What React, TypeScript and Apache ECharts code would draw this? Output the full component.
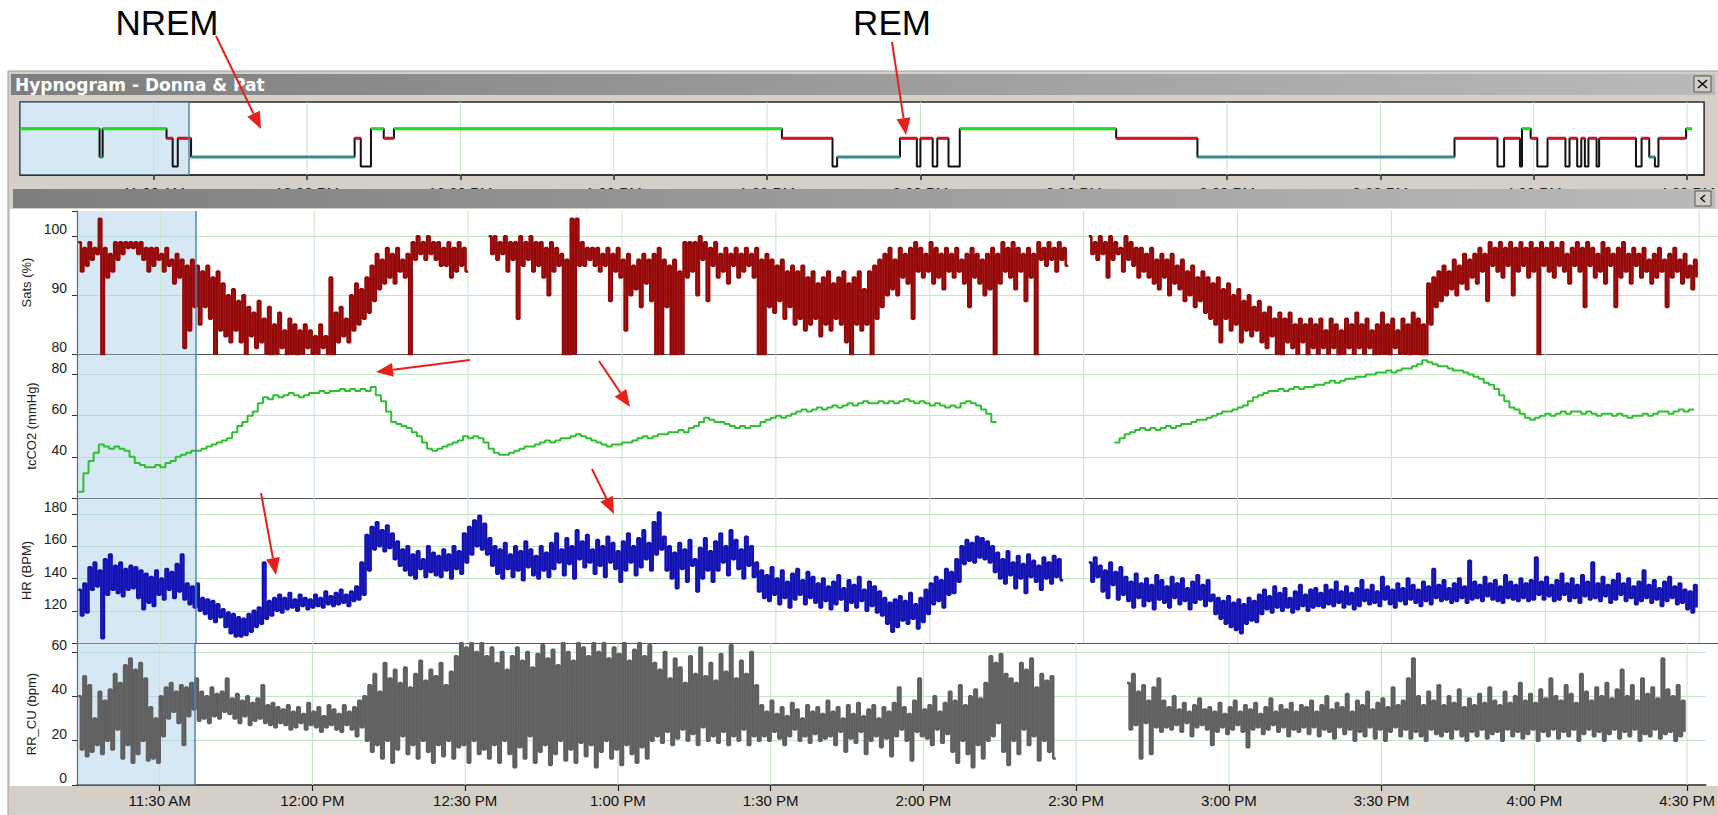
import React, { useEffect, useRef } from "react";
import * as echarts from "echarts";

const _ = null;

// ---- Per-minute readings starting 11:14 AM (hi = top of trace, lo = bottom of trace in that minute)
const satsHi = [
  99,98,99,98,103,98,97,99,99,99,
  99,99,99,98,98,98,97,98,96,97,
  96,95,96,95,94,95,93,94,92,90,
  91,89,90,88,87,89,86,88,85,87,
  84,86,85,84,85,84,83,85,83,93,
  87,88,86,90,92,91,93,95,97,96,
  98,97,98,96,97,99,100,99,100,99,
  99,98,99,98,99,98,_,_,_,_,
  100,100,99,100,99,99,100,99,100,99,
  99,98,99,98,97,96,103,103,99,98,
  98,98,97,98,97,98,96,97,95,96,
  97,96,97,98,96,95,96,94,99,99,
  99,100,99,98,99,97,98,97,98,97,
  98,97,98,96,97,96,95,96,94,95,
  94,95,93,94,92,93,94,92,93,94,
  92,93,94,91,94,95,96,97,98,96,
  98,97,98,99,98,97,99,98,97,98,
  97,98,96,97,98,97,96,97,98,97,
  99,98,99,98,97,98,97,99,98,99,
  98,99,98,_,_,_,_,100,99,100,
  99,100,99,98,100,99,98,98,97,98,
  96,97,96,97,95,96,94,95,93,94,
  93,92,93,91,92,90,91,89,90,88,
  89,87,88,86,87,86,87,85,86,85,
  86,85,86,84,86,85,84,86,85,87,
  85,86,84,85,87,85,86,84,86,85,
  87,86,85,92,93,94,95,94,96,95,
  97,96,97,98,97,99,98,99,98,99,
  98,99,98,99,98,99,98,99,98,99,
  97,98,99,98,99,98,97,99,98,97,
  98,99,97,98,97,98,96,97,98,96,
  97,98,96,97,95,96,
];
const satsLo = [
  94,95,96,97,78,93,94,96,97,98,
  98,97,96,94,95,96,94,95,92,93,
  81,84,88,85,88,86,80,84,83,82,
  84,82,80,83,81,82,80,79,80,81,
  79,80,79,80,81,80,80,81,79,78,
  82,83,82,84,85,86,87,89,91,92,
  93,92,94,93,78,96,97,96,97,96,
  95,95,93,94,95,94,_,_,_,_,
  97,96,97,94,96,86,95,96,94,95,
  93,90,94,95,79,78,80,95,95,96,
  95,94,95,89,94,93,84,90,91,88,
  92,89,79,80,88,79,79,80,93,94,
  90,96,89,95,93,94,92,95,93,94,
  95,93,79,79,88,87,89,86,88,85,
  86,84,85,86,83,85,84,86,85,82,
  79,85,84,85,79,86,88,90,91,90,
  93,92,86,94,93,94,92,93,91,94,
  93,94,92,88,93,92,90,91,79,92,
  94,93,91,94,89,93,79,96,95,96,
  94,96,95,_,_,_,_,97,96,97,
  93,96,97,94,96,95,93,94,93,92,
  91,93,90,92,91,89,90,88,89,87,
  86,85,82,86,84,85,82,84,83,84,
  82,81,83,80,79,82,81,80,82,79,
  81,80,81,80,81,79,80,81,80,81,
  80,81,79,80,80,79,81,80,80,79,
  80,79,78,85,88,89,90,91,90,92,
  91,93,92,94,89,95,94,93,95,90,
  94,95,93,94,79,95,94,93,95,94,
  92,95,94,88,95,93,94,92,95,88,
  93,94,92,95,93,94,92,93,94,88,
  93,94,92,93,91,93,
];
const tcco2 = [
  23,32,38,42,46,45,44,45,44,43,
  40,37,36,35,35,36,35,37,38,40,
  41,42,43,43,44,45,46,47,48,49,
  52,55,57,60,62,66,69,68,70,69,
  70,71,70,69,70,71,71,72,71,72,
  72,73,72,73,72,73,72,74,70,67,
  62,57,56,55,54,52,50,47,44,43,
  44,45,46,47,48,50,49,50,49,47,
  44,42,41,41,42,43,44,45,45,46,
  47,48,47,48,49,49,50,51,50,49,
  48,47,46,45,46,46,47,47,48,49,
  50,49,50,51,51,52,52,53,52,54,
  55,57,59,58,57,57,56,55,54,55,
  54,55,55,57,58,59,60,59,60,61,
  62,63,62,63,64,63,64,65,64,65,
  66,65,66,67,66,66,67,66,67,66,
  67,68,67,66,67,66,65,66,65,64,
  65,64,66,67,66,65,63,61,57,_,
  _,_,_,_,_,_,_,_,_,_,
  _,_,_,_,_,_,_,_,_,_,
  _,_,47,49,51,52,53,54,53,54,
  53,54,55,54,55,56,56,57,58,58,
  59,60,61,62,62,63,64,65,67,69,
  70,71,72,72,73,72,73,74,73,74,
  74,75,75,76,77,76,77,78,78,79,
  79,80,80,81,81,82,81,82,83,83,
  84,85,87,86,85,84,84,83,82,82,
  81,80,79,78,76,75,73,70,67,64,
  63,61,59,58,59,60,61,60,61,62,
  61,62,62,61,62,61,60,61,61,60,
  61,60,59,60,60,61,60,61,62,62,
  61,62,63,62,63,63,
];
const hrHi = [
  133,137,147,150,145,152,155,148,150,146,
  148,147,145,143,141,145,140,146,144,149,
  155,137,135,137,128,127,126,124,121,119,
  118,116,115,118,120,122,150,126,128,130,
  128,131,127,130,128,127,130,128,132,129,
  131,133,130,132,135,150,167,172,175,170,
  173,168,163,158,160,155,157,152,160,156,
  154,158,155,160,157,168,172,176,179,174,
  165,160,158,162,155,160,157,163,158,154,
  160,156,162,168,158,165,160,170,163,167,
  158,164,160,166,162,157,163,168,160,165,
  170,162,175,181,166,160,156,162,158,164,
  152,159,165,157,163,168,160,170,164,158,
  166,160,150,145,142,147,140,145,138,143,
  146,139,144,141,137,140,135,138,142,134,
  139,136,141,133,138,135,132,128,125,127,
  129,126,131,124,128,133,137,141,139,146,
  144,152,160,164,162,166,165,163,160,156,
  152,157,150,154,149,155,151,148,153,150,
  154,152,_,_,_,_,_,150,153,148,
  145,150,144,147,141,138,143,137,140,136,
  142,139,135,141,137,140,134,138,142,136,
  139,130,128,126,129,125,127,124,128,126,
  130,133,129,135,131,134,128,132,136,130,
  133,134,131,136,133,138,132,135,131,134,
  139,133,136,132,141,135,133,137,134,140,
  136,133,138,135,146,136,139,134,137,140,
  135,151,138,136,141,137,139,135,142,138,
  136,140,137,139,153,138,141,136,139,143,
  137,140,136,142,138,150,137,141,136,139,
  143,137,140,135,138,145,136,139,134,138,
  141,135,137,133,132,136,
];
const hrLo = [
  117,119,133,135,103,130,133,131,129,133,
  134,128,121,125,123,130,127,133,128,132,
  127,124,122,120,118,115,113,116,110,106,
  104,104,105,107,110,112,115,117,120,119,
  121,122,120,123,121,122,123,122,124,123,
  124,125,123,126,127,130,145,158,160,157,
  159,152,148,145,142,140,146,141,144,142,
  141,145,140,146,143,150,155,160,158,155,
  148,143,140,146,141,145,139,147,142,140,
  145,141,146,150,142,149,140,152,147,150,
  143,148,141,150,146,138,145,150,142,147,
  152,145,155,158,145,140,134,146,138,148,
  132,140,145,138,145,150,142,152,146,140,
  148,141,132,128,126,130,124,128,122,127,
  130,124,128,125,122,126,121,124,127,120,
  125,122,126,120,123,119,117,112,107,110,
  114,112,115,109,113,118,124,126,122,130,
  131,138,149,151,150,153,152,150,144,140,
  137,142,134,140,131,141,138,133,140,137,
  141,139,_,_,_,_,_,138,141,132,
  128,136,127,130,126,122,128,123,126,121,
  127,125,122,128,124,126,121,125,127,123,
  126,118,115,112,110,108,106,112,114,113,
  118,121,119,122,120,122,119,121,123,120,
  122,123,122,124,123,125,122,124,121,123,
  126,124,125,123,127,124,122,126,124,127,
  125,123,126,124,128,126,127,125,126,128,
  125,127,128,126,129,127,126,125,128,127,
  126,128,126,127,130,127,129,126,127,130,
  126,128,125,129,127,128,126,129,125,127,
  130,126,128,124,126,128,125,127,123,126,
  128,124,125,121,119,122,
];
const rrHi = [
  40,49,45,30,42,38,43,50,46,54,
  57,52,55,48,35,30,40,44,46,42,
  45,44,46,48,42,40,44,41,42,48,
  39,41,38,40,37,39,45,36,37,35,
  34,36,33,35,32,37,33,35,31,36,
  34,32,36,33,35,38,40,45,50,42,
  55,48,52,46,53,44,50,56,47,52,
  49,55,45,51,58,64,62,64,60,64,
  58,62,55,60,52,58,62,56,60,53,
  59,63,57,61,54,64,60,56,64,62,
  58,64,60,64,57,62,59,64,56,61,
  64,58,63,55,52,60,48,57,53,46,
  58,50,62,49,55,47,59,51,63,48,
  56,50,60,45,36,33,38,32,35,31,
  37,34,30,36,33,35,32,38,33,35,
  30,36,32,37,31,34,36,30,35,33,
  37,44,35,32,38,48,34,36,40,33,
  37,42,38,45,36,40,43,39,46,58,
  55,59,50,48,46,55,52,57,44,50,
  47,49,_,_,_,_,_,_,_,_,
  _,_,_,_,_,_,46,50,42,45,
  38,44,48,38,35,40,34,37,33,36,
  39,34,35,33,37,32,35,38,33,36,
  34,37,32,35,39,33,36,34,37,33,
  36,35,38,33,36,40,34,37,35,41,
  33,38,36,42,34,37,39,35,44,36,
  38,48,57,40,36,42,38,45,36,40,
  37,43,35,39,36,41,37,44,38,36,
  42,37,40,46,38,41,37,43,39,48,
  40,38,45,41,37,50,42,38,44,40,
  46,39,43,52,40,45,38,48,41,44,
  39,57,43,40,45,38,
];
const rrLo = [
  16,13,15,18,14,20,16,25,12,18,
  10,14,20,11,12,10,22,30,33,28,
  18,31,34,29,30,28,31,30,33,32,
  30,28,31,27,29,30,28,27,26,28,
  27,25,26,28,25,27,26,24,26,27,
  25,24,27,25,22,26,20,15,18,12,
  20,10,16,22,14,18,12,20,15,10,
  18,13,20,12,17,18,10,20,14,16,
  12,18,10,20,14,8,17,12,22,10,
  15,18,9,14,20,11,16,10,19,13,
  18,8,15,20,12,16,9,18,14,10,
  17,12,20,22,19,24,18,21,25,20,
  23,18,26,20,22,19,24,18,22,20,
  25,18,22,20,22,20,24,21,18,22,
  25,20,22,19,23,20,21,22,18,24,
  15,21,19,24,14,20,22,17,21,13,
  22,25,20,11,24,22,21,18,25,19,
  23,15,10,20,14,8,18,12,20,22,
  28,15,9,20,14,25,18,22,11,20,
  15,12,_,_,_,_,_,_,_,_,
  _,_,_,_,_,_,25,27,12,28,
  14,26,24,26,25,27,24,28,22,26,
  27,25,18,24,26,23,25,27,24,17,
  25,26,23,25,27,24,26,22,25,24,
  26,23,26,22,25,24,21,26,23,25,
  20,24,22,26,21,25,20,24,26,22,
  25,21,24,22,20,25,23,22,24,21,
  25,22,20,24,22,25,21,23,24,20,
  25,22,24,21,23,25,20,24,22,25,
  21,24,22,25,20,23,25,22,24,20,
  23,25,21,24,22,25,20,23,22,25,
  21,23,24,20,22,24,
];

// ---- Hypnogram: stage changes (minutes after 11:00 AM). 4 = wake, 3 = REM, 1 = NREM, 0 = other
const hypnoStartMin = [3.8, 19.4, 20.0, 32.5, 33.7, 34.7, 37.3, 69.3, 70.5, 72.5, 75.0, 77.0, 152.9, 162.8, 163.7, 176.0, 179.3, 180.0, 182.4, 183.3, 185.5, 187.7, 218.3, 234.2, 284.5, 292.9, 294.2, 297.3, 297.7, 299.4, 300.7, 302.7, 306.2, 307.0, 308.5, 309.3, 310.0, 310.7, 312.3, 312.8, 320.0, 321.1, 322.6, 323.7, 324.4, 329.8];
const hypnoStage = [4, 1, 4, 3, 0, 3, 1, 3, 0, 4, 3, 4, 3, 0, 1, 3, 0, 3, 0, 3, 0, 4, 3, 1, 3, 0, 3, 0, 4, 3, 0, 3, 0, 3, 0, 3, 0, 3, 0, 3, 0, 3, 1, 0, 3, 4];
const hypnoEndMin = 330.9;

// ---- Time ticks (minutes after 11:00 AM) and their labels
const tickMinutes = [30, 60, 90, 120, 150, 180, 210, 240, 270, 300, 330];
const tickText = ["11:30 AM", "12:00 PM", "12:30 PM", "1:00 PM", "1:30 PM", "2:00 PM", "2:30 PM", "3:00 PM", "3:30 PM", "4:00 PM", "4:30 PM"];
const satsTicks = [80, 90, 100];
const co2Ticks = [40, 60, 80];
const hrTicks = [120, 140, 160, 180];
const rrTicks = [0, 20, 40, 60];

// minutes after 11:00 AM
const seriesStart = 14;
const mainMin = 13.75;
const mainMax = 333.67;
const hypnoMin = 3.83;
const hypnoMax = 333.33;
const shadeEnd = 36.83;

const FONT = '"Liberation Sans", Arial, sans-serif';
const GRID_GREEN = "#c4e6c4";
const SHADE = "rgba(160,200,230,0.42)";
const SHADE_EDGE = "#4a85b5";
const ARROW_RED = "#e8201a";

function fmtTime(v: number) {
  const i = tickMinutes.indexOf(v);
  return i >= 0 ? tickText[i] : "";
}

function zig(hi: (number | null)[], lo: (number | null)[]) {
  const out: any[] = [];
  hi.forEach((h, i) => {
    const t = seriesStart + i;
    out.push([t, h]);
    out.push([t + 0.5, lo[i]]);
  });
  return out;
}
function single(vals: (number | null)[]) {
  return vals.map((v, i) => [seriesStart + i, v]);
}
function gridLines(yMin: number, yMax: number) {
  return tickMinutes.flatMap((v) => [[v, yMin], [v, yMax], [v, null]]);
}

function shadeMarks(start: number) {
  return {
    markArea: { silent: true, itemStyle: { color: SHADE }, data: [[{ xAxis: start }, { xAxis: shadeEnd }]] },
    markLine: {
      silent: true, symbol: ["none", "none"], label: { show: false },
      lineStyle: { color: SHADE_EDGE, width: 1.5, type: "solid" }, data: [{ xAxis: shadeEnd }],
    },
  };
}

const annotationArrows = [
  [216, 36, 261, 129],
  [892, 42, 906, 135],
  [470, 360, 376, 372],
  [599, 361, 630, 407],
  [592, 469, 614, 514],
  [261, 493, 276, 575],
];

function arrowEls(a: number[]) {
  const [x1, y1, x2, y2] = a;
  const dx = x2 - x1, dy = y2 - y1;
  const len = Math.hypot(dx, dy);
  const ux = dx / len, uy = dy / len;
  const hl = 17, hw = 7;
  const bx = x2 - ux * hl, by = y2 - uy * hl;
  return [
    { type: "line", shape: { x1, y1, x2: bx, y2: by }, style: { stroke: ARROW_RED, lineWidth: 2 }, z: 60 },
    {
      type: "polygon",
      shape: { points: [[x2, y2], [bx - uy * hw, by + ux * hw], [bx + uy * hw, by - ux * hw]] },
      style: { fill: ARROW_RED }, z: 60,
    },
  ];
}

function txt(x: number, y: number, text: string, font: string, fill: string, align = "left", z = 55) {
  return {
    type: "text", x, y, z,
    style: { text, font, fill, align, textAlign: align, verticalAlign: "middle", textVerticalAlign: "middle" },
  };
}

function titleGrad() {
  return {
    type: "linear", x: 0, y: 0, x2: 1, y2: 0,
    colorStops: [{ offset: 0, color: "#7e7e7e" }, { offset: 1, color: "#bababa" }],
  };
}

function buildOption() {
  const black: any[] = [];
  const colored: Record<number, any[]> = { 4: [], 3: [], 1: [] };
  for (let i = 0; i < hypnoStartMin.length; i++) {
    const s = hypnoStartMin[i];
    const e = i + 1 < hypnoStartMin.length ? hypnoStartMin[i + 1] : hypnoEndMin;
    const v = hypnoStage[i];
    black.push([s, v], [e, v]);
    if (colored[v]) colored[v].push([s, v], [e, v], [e, null]);
  }
  const stageColor: Record<number, string> = { 4: "#1fdc1f", 3: "#d0142c", 1: "#3a8c8c" };
  const hypY = [-0.9, 6.85];

  const panels = [
    { name: "Sats (%)", min: 80, max: 104.3, interval: 10, top: 211, height: 143, ticks: satsTicks, color: "#960707", data: zig(satsHi, satsLo), width: 2.5 },
    { name: "tcCO2 (mmHg)", min: 20, max: 90, interval: 20, top: 354, height: 144, ticks: co2Ticks, color: "#2ec02e", data: single(tcco2), width: 2 },
    { name: "HR (BPM)", min: 100, max: 190, interval: 20, top: 498, height: 145, ticks: hrTicks, color: "#1212b4", data: zig(hrHi, hrLo), width: 2.5 },
    { name: "RR_CU (bpm)", min: 0, max: 64, interval: 20, top: 643, height: 142, ticks: rrTicks, color: "#5f5f5f", data: zig(rrHi, rrLo), width: 2.5 },
  ];

  const grid: any[] = [
    { left: 20, top: 102, width: 1688, height: 73, show: true, backgroundColor: "#ffffff", borderColor: "#2a2a2a", borderWidth: 1.5 },
    ...panels.map((p) => ({ left: 77, top: p.top, width: 1641, height: p.height, show: false })),
  ];

  const xAxis: any[] = [
    {
      gridIndex: 0, type: "value", min: hypnoMin, max: hypnoMax,
      axisLine: { show: true, onZero: false, lineStyle: { color: "#2a2a2a", width: 1.5 } },
      axisTick: { show: true, length: 5, customValues: tickMinutes, lineStyle: { color: "#2a2a2a", width: 1.5 } },
      axisLabel: { customValues: tickMinutes, formatter: fmtTime, fontSize: 15, color: "#222", margin: 10, fontFamily: FONT },
      splitLine: { show: false },
    },
    ...panels.map((p, i) => ({
      gridIndex: i + 1, type: "value", min: mainMin, max: mainMax,
      axisLine: { show: true, onZero: false, lineStyle: { color: i === 3 ? "#222" : "#555", width: i === 3 ? 1.5 : 1.2 } },
      axisTick: { show: i === 3, length: 6, customValues: tickMinutes, lineStyle: { color: "#222", width: 1.2 } },
      axisLabel: { show: i === 3, customValues: tickMinutes, formatter: fmtTime, fontSize: 15, color: "#111", margin: 8, fontFamily: FONT },
      splitLine: { show: false },
    })),
  ];

  const yAxis: any[] = [
    { gridIndex: 0, type: "value", min: hypY[0], max: hypY[1], show: false },
    ...panels.map((p, i) => ({
      gridIndex: i + 1, type: "value", min: p.min, max: p.max, interval: p.interval,
      name: p.name, nameLocation: "middle", nameGap: 39,
      nameTextStyle: { fontSize: 13, color: "#222", fontFamily: FONT },
      axisLine: { show: true, lineStyle: { color: "#333", width: 1.2 } },
      axisTick: { show: true, length: 5, lineStyle: { color: "#333" } },
      axisLabel: {
        formatter: (v: number) => (p.ticks.includes(v) ? String(v) : ""),
        fontSize: 14, color: "#222", margin: 10, verticalAlign: "bottom", fontFamily: FONT,
      },
      splitLine: { show: true, showMinLine: false, showMaxLine: false, lineStyle: { color: GRID_GREEN, width: 1 } },
    })),
  ];

  const gridLineSeries = (xi: number, yMin: number, yMax: number) => ({
    type: "line", xAxisIndex: xi, yAxisIndex: xi, data: gridLines(yMin, yMax), symbol: "none",
    silent: true, z: 1, lineStyle: { color: GRID_GREEN, width: 1 },
  });

  const series: any[] = [
    gridLineSeries(0, hypY[0], hypY[1]),
    ...panels.map((p, i) => gridLineSeries(i + 1, p.min, p.max)),
    {
      type: "line", xAxisIndex: 0, yAxisIndex: 0, data: black, symbol: "none", silent: true, z: 3,
      lineStyle: { color: "#111", width: 2 }, ...shadeMarks(hypnoMin),
    },
    ...[4, 3, 1].map((st) => ({
      type: "line", xAxisIndex: 0, yAxisIndex: 0, data: colored[st], symbol: "none", silent: true, z: 4,
      lineStyle: { color: stageColor[st], width: 3 },
    })),
    ...panels.map((p, i) => ({
      type: "line", xAxisIndex: i + 1, yAxisIndex: i + 1, data: p.data, symbol: "none", silent: true,
      step: "end", clip: true, lineStyle: { color: p.color, width: p.width }, ...shadeMarks(mainMin),
    })),
  ];

  const graphicEls: any[] = [
    { type: "rect", shape: { x: 8, y: 71, width: 1712, height: 746 }, style: { fill: "#d4d0c8", stroke: "#9c9c9c", lineWidth: 1 }, z: -10 },
    { type: "rect", shape: { x: 10, y: 209, width: 1708, height: 577 }, style: { fill: "#ffffff" }, z: -9 },
    { type: "rect", shape: { x: 11, y: 74, width: 1704, height: 21 }, style: { fill: titleGrad() }, z: 50 },
    txt(15, 85, "Hypnogram - Donna & Pat", 'bold 17px "DejaVu Sans", Verdana, sans-serif', "#ffffff"),
    { type: "rect", shape: { x: 1694, y: 76, width: 17, height: 16 }, style: { fill: "#d4d0c8", stroke: "#555", lineWidth: 1 }, z: 55 },
    { type: "line", shape: { x1: 1698, y1: 80, x2: 1707, y2: 88 }, style: { stroke: "#111", lineWidth: 1.6 }, z: 56 },
    { type: "line", shape: { x1: 1707, y1: 80, x2: 1698, y2: 88 }, style: { stroke: "#111", lineWidth: 1.6 }, z: 56 },
    { type: "rect", shape: { x: 13, y: 189, width: 1702, height: 19 }, style: { fill: titleGrad() }, z: 50 },
    { type: "rect", shape: { x: 1695, y: 191, width: 16, height: 15 }, style: { fill: "#d4d0c8", stroke: "#555", lineWidth: 1 }, z: 55 },
    { type: "polyline", shape: { points: [[1705, 195], [1701, 198.5], [1705, 202]] }, style: { stroke: "#111", lineWidth: 1.5, fill: null }, z: 56 },
    txt(167, 22, "NREM", `35px ${FONT}`, "#000", "center"),
    txt(892, 22, "REM", `35px ${FONT}`, "#000", "center"),
    ...annotationArrows.flatMap(arrowEls),
  ];

  return {
    animation: false,
    backgroundColor: "#ffffff",
    textStyle: { fontFamily: FONT },
    grid, xAxis, yAxis, series,
    graphic: { elements: graphicEls },
  };
}

export default function App() {
  const ref = useRef<HTMLDivElement>(null);
  useEffect(() => {
    const chart = echarts.init(ref.current!, null, { renderer: "svg" });
    chart.setOption(buildOption() as any);
    return () => chart.dispose();
  }, []);
  return <div ref={ref} style={{ position: "absolute", left: 0, top: 0, width: 1718, height: 815 }} />;
}
